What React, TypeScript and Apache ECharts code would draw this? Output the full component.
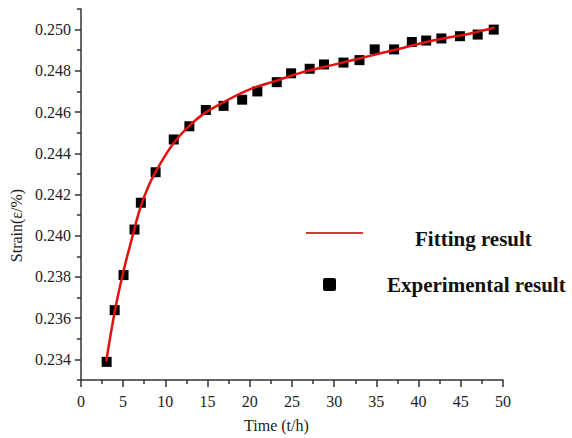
import React, { useEffect, useRef } from "react";
import * as echarts from "echarts";

const expTime = [3.05, 4.0, 5.05, 6.35, 7.1, 8.85, 11.0, 12.85, 14.8, 16.9, 19.1, 20.9, 23.2, 24.9, 27.1, 28.8, 31.1, 33.0, 34.8, 37.1, 39.2, 40.9, 42.7, 44.9, 47.0, 48.9];
const expStrain = [0.23388, 0.23639, 0.23809, 0.2403, 0.2416, 0.24308, 0.24467, 0.24531, 0.2461, 0.2463, 0.2466, 0.247, 0.24745, 0.24788, 0.2481, 0.24831, 0.2484, 0.24852, 0.24904, 0.24904, 0.2494, 0.24947, 0.24957, 0.24968, 0.24976, 0.25];

const fitTime = [3, 4, 5, 6, 7, 8, 9, 10, 11, 12.5, 14.5, 17, 20, 23, 26, 30, 34, 38, 42, 46, 49];
const fitStrain = [0.2339, 0.2363, 0.2382, 0.2398, 0.2413, 0.2424, 0.2432, 0.2439, 0.2445, 0.2452, 0.2459, 0.2465, 0.2471, 0.2475, 0.2479, 0.2483, 0.2487, 0.2491, 0.2495, 0.2498, 0.2501];

const yMajorTicks = [0.234, 0.236, 0.238, 0.24, 0.242, 0.244, 0.246, 0.248, 0.25];
const yMinorTicks = [0.233, 0.235, 0.237, 0.239, 0.241, 0.243, 0.245, 0.247, 0.249, 0.251];

const legendNames = ["Fitting result", "Experimental result"];

const SERIF = "Liberation Serif";
const AXIS_COLOR = "#333";

export default function App() {
  const ref = useRef<HTMLDivElement>(null);
  useEffect(() => {
    if (!ref.current) return;
    const chart = echarts.init(ref.current, null, { renderer: "svg" });
    const axisLine = { show: true, lineStyle: { color: AXIS_COLOR, width: 1.5 } };
    const labelStyle = { fontFamily: SERIF, fontSize: 16, color: "#222" };
    chart.setOption({
      animation: false,
      backgroundColor: "#fff",
      textStyle: { fontFamily: SERIF },
      grid: { left: 77, right: 69, top: 9, bottom: 53, containLabel: false },
      xAxis: {
        type: "value",
        min: 0,
        max: 50,
        interval: 5,
        name: "Time (t/h)",
        nameLocation: "middle",
        nameGap: 37,
        nameTextStyle: { ...labelStyle, padding: [0, 31, 0, 0] },
        axisLine,
        axisTick: { show: true, inside: false, length: 7, lineStyle: { color: AXIS_COLOR, width: 1.5 } },
        minorTick: { show: true, splitNumber: 2, length: 4, lineStyle: { color: AXIS_COLOR, width: 1.5 } },
        axisLabel: { ...labelStyle, margin: 13 },
        splitLine: { show: false },
      },
      yAxis: [
        {
          type: "value",
          min: 0.233,
          max: 0.251,
          name: "Strain(ε/%)",
          nameLocation: "middle",
          nameGap: 52,
          nameRotate: 90,
          nameTextStyle: { ...labelStyle, padding: [0, 62, 0, 0] },
          axisLine,
          axisTick: { show: true, inside: false, length: 6, customValues: yMajorTicks, lineStyle: { color: AXIS_COLOR, width: 1.5 } },
          axisLabel: {
            ...labelStyle,
            margin: 10,
            customValues: yMajorTicks,
            formatter: (v: number) => v.toFixed(3),
          },
          splitLine: { show: false },
        },
        {
          type: "value",
          min: 0.233,
          max: 0.251,
          position: "left",
          axisLine: { show: false },
          axisTick: { show: true, inside: false, length: 4, customValues: yMinorTicks, lineStyle: { color: AXIS_COLOR, width: 1.5 } },
          axisLabel: { show: false },
          splitLine: { show: false },
        },
      ],
      series: [
        {
          name: legendNames[0],
          type: "line",
          data: fitTime.map((t, i) => [t, fitStrain[i]]),
          smooth: 0.4,
          showSymbol: false,
          lineStyle: { color: "#e31010", width: 2.5 },
          itemStyle: { color: "#e31010" },
          z: 3,
        },
        {
          name: legendNames[1],
          type: "scatter",
          data: expTime.map((t, i) => [t, expStrain[i]]),
          symbol: "rect",
          symbolSize: 10,
          itemStyle: { color: "#000", opacity: 1 },
          z: 2,
        },
      ],
      graphic: [
        {
          type: "line",
          shape: { x1: 306, y1: 233, x2: 363, y2: 233 },
          style: { stroke: "#d23a3a", lineWidth: 2 },
        },
        {
          type: "text",
          x: 415,
          y: 239,
          style: { text: legendNames[0], fontFamily: SERIF, fontWeight: "bold", fontSize: 21, fill: "#111", verticalAlign: "middle" },
        },
        {
          type: "rect",
          shape: { x: 323, y: 278, width: 13, height: 13, r: 2 },
          style: { fill: "#000" },
        },
        {
          type: "text",
          x: 387,
          y: 285,
          style: { text: legendNames[1], fontFamily: SERIF, fontWeight: "bold", fontSize: 21, fill: "#111", verticalAlign: "middle" },
        },
      ],
    });
    return () => chart.dispose();
  }, []);
  return (
    <div
      ref={ref}
      style={{ position: "fixed", left: 0, top: 0, width: 572, height: 438, background: "#fff" }}
    />
  );
}
